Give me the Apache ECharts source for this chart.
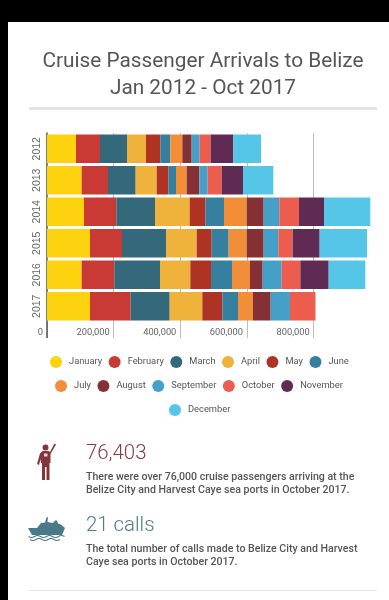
<!DOCTYPE html>
<html>
<head>
<meta charset="utf-8">
<script src="https://cdn.jsdelivr.net/npm/echarts@6/dist/echarts.min.js"></script>
<style>
html, body { margin: 0; padding: 0; background: #000; overflow: hidden; }
body { width: 389px; height: 600px; position: relative; font-family: Roboto, sans-serif; }
#panel { position: absolute; left: 8px; top: 22px; width: 381px; height: 578px; background: #fff; }
#chart { position: absolute; left: 0; top: 0; width: 389px; height: 600px; }
.txt { position: absolute; white-space: nowrap; }
.title { width: 406px; text-align: center; font-size: 20.8px; color: #555; }
.rule { position: absolute; left: 29px; width: 348px; background: #e4e4e4; }
.num { left: 86px; font-size: 20.4px; font-weight: 300; }
.desc { left: 86px; font-size: 10.6px; font-weight: 500; color: #555; line-height: 12.7px; }
svg { position: absolute; }
</style>
</head>
<body>
<div id="panel"></div>
<div id="chart"></div>
<div class="txt title" style="left:0;top:48px">Cruise Passenger Arrivals to Belize</div>
<div class="txt title" style="left:0;top:75px">Jan 2012 - Oct 2017</div>
<div class="rule" style="top:107px;height:3px"></div>
<svg style="left:36px;top:443px" width="21" height="38" viewBox="0 0 21 38">
  <path fill="#86333a" d="M9.500 1.500a3 3 0 1 1 0 6a3 3 0 0 1 0-6zM18.500 0.500L20 1.500L14.500 11V20H13.500V37H10.500V24H9V37H6V20H5L4.500 16L3 22L1 21L4 10.500L6.500 8H12.500L14 9z"/>
  <rect x="8" y="10.500" width="3.500" height="3" fill="#e8d5d6"/>
</svg>
<svg style="left:28px;top:515px" width="38" height="27" viewBox="0 0 38 27">
  <path fill="#4a7a8a" d="M0 13L9 13L13 8L17 7.500L18.500 2.500L20 2L19.500 7L25 8L27 5.500L29 5.500L30 8.500L33 9.500L37 13L34 20H4z"/>
  <path fill="none" stroke="#4a7a8a" stroke-width="1.100" d="M0.500 21.500q3 2 6 0t6 0t6 0t6 0t6 0t6 0M2 24.500q3 2 6 0t6 0t6 0t6 0t6 0"/>
</svg>
<div class="txt num" style="top:440px;color:#8a3b40">76,403</div>
<div class="txt desc" style="top:471px">There were over 76,000 cruise passengers arriving at the<br>Belize City and Harvest Caye sea ports in October 2017.</div>
<div class="txt num" style="top:512px;color:#4f7c8c">21 calls</div>
<div class="txt desc" style="top:543px">The total number of calls made to Belize City and Harvest<br>Caye sea ports in October 2017.</div>
<div class="rule" style="top:590px;height:1px"></div>
<script>
var years = ['2012', '2013', '2014', '2015', '2016', '2017'];
var xTicks = [0, 200000, 400000, 600000, 800000];

var january   = [87000, 104000, 111000, 129000, 104000, 129000];
var february  = [72000, 79000, 97000, 96000, 98000, 122000];
var march     = [81000, 83000, 116000, 132000, 137000, 117000];
var april     = [57000, 63000, 104000, 92000, 91000, 98000];
var may       = [43000, 35000, 47000, 45000, 62000, 60000];
var june      = [30000, 23000, 56000, 51000, 63000, 47000];
var july      = [36000, 32000, 68000, 54000, 54000, 45000];
var august    = [28000, 38000, 51000, 51000, 38000, 53000];
var september = [24000, 25000, 47000, 44000, 57000, 58000];
var october   = [33000, 42000, 59000, 43000, 56000, 76403];
var november  = [68000, 64000, 75000, 81000, 85000, null];
var december  = [83000, 91000, 139000, 142000, 110000, null];

var monthNames = ['January', 'February', 'March', 'April', 'May', 'June',
  'July', 'August', 'September', 'October', 'November', 'December'];
var monthValues = [january, february, march, april, may, june,
  july, august, september, october, november, december];
var monthColors = ['#fdd20e', '#ca3a35', '#33697b', '#efb23a', '#ae3322', '#367f9f',
  '#f28d38', '#853035', '#45a0c8', '#ec5d4e', '#5f2a53', '#55c5e8'];

var series = monthNames.map(function (name, i) {
  return {
    name: name,
    type: 'bar',
    stack: 'total',
    barWidth: 28.5,
    itemStyle: { color: monthColors[i] },
    data: monthValues[i]
  };
});

function legendRow(names, left, top) {
  return {
    data: names,
    top: top,
    left: left,
    icon: 'circle',
    itemWidth: 12,
    itemHeight: 12,
    itemGap: 6.5,
    selectedMode: false,
    textStyle: { fontFamily: 'Roboto', fontSize: 9.3, color: '#555', padding: [0, 0, 0, 2] }
  };
}

var option = {
  animation: false,
  grid: { left: 47, top: 133, width: 333.33, height: 189 },
  legend: [
    legendRow(monthNames.slice(0, 6), 45, 351),
    legendRow(monthNames.slice(6, 11), 50, 375),
    legendRow(monthNames.slice(11), 164, 399)
  ],
  xAxis: [{
    type: 'value',
    min: 0,
    max: 1000000,
    interval: 200000,
    splitLine: { show: true, showMinLine: false, lineStyle: { color: '#bdbdbd', width: 1 } },
    axisLine: { show: false },
    axisTick: { show: true, length: 16, customValues: xTicks, lineStyle: { color: '#bdbdbd' } },
    axisLabel: {
      align: 'right',
      verticalAlign: 'top',
      margin: 6,
      padding: [0, 4, 0, 0],
      customValues: xTicks,
      fontFamily: 'Roboto',
      fontSize: 9.3,
      color: '#666',
      formatter: function (v) { return v.toLocaleString('en-US'); }
    }
  }, {
    // darker stub carrying the y axis line down past the bars
    type: 'value',
    position: 'bottom',
    min: 0,
    max: 1000000,
    splitLine: { show: false },
    axisLine: { show: false },
    axisLabel: { show: false },
    axisTick: { show: true, length: 16, customValues: [xTicks[0]], lineStyle: { color: '#555', width: 1.5 } }
  }],
  yAxis: {
    type: 'category',
    inverse: true,
    data: years,
    axisLine: { show: true, lineStyle: { color: '#555', width: 1.5 } },
    axisTick: { show: false },
    axisLabel: { rotate: 90, margin: 4, fontFamily: 'Liberation Sans', fontSize: 10.5, color: '#666' }
  },
  series: series
};

var chart = echarts.init(document.getElementById('chart'), null, { renderer: 'canvas' });
chart.setOption(option);
</script>
</body>
</html>
